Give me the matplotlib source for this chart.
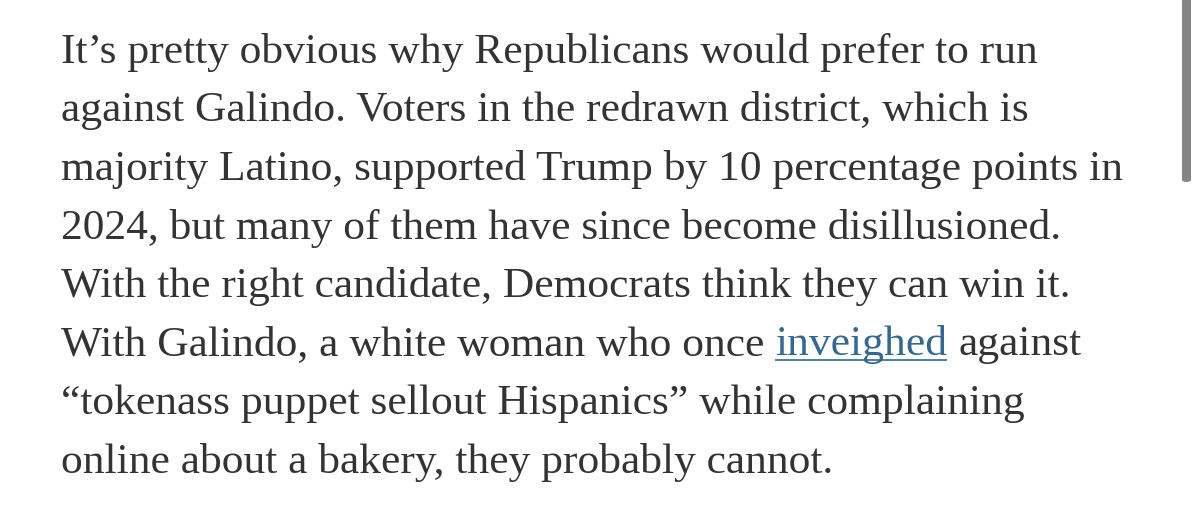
import matplotlib
matplotlib.use('Agg')
import matplotlib.pyplot as plt
from matplotlib.patches import FancyBboxPatch

### paragraph text, one entry per rendered line
lines = [
    "It\u2019s pretty obvious why Republicans would prefer to run",
    "against Galindo. Voters in the redrawn district, which is",
    "majority Latino, supported Trump by 10 percentage points in",
    "2024, but many of them have since become disillusioned.",
    "With the right candidate, Democrats think they can win it.",
    None,  # line with the link, built below
    "\u201ctokenass puppet sellout Hispanics\u201d while complaining",
    "online about a bakery, they probably cannot.",
]
link_before = "With Galindo, a white woman who once"
link_word = "inveighed"
link_after = "against"

font = 'Liberation Serif'
fsize = 31.3
text_color = '#333333'
link_color = '#326891'
x0 = 61          # left margin, px
y_first = 63     # first baseline, px
line_gap = 58.5  # baseline to baseline, px

fig = plt.figure(figsize=(12, 5.24), dpi=100)
ax = fig.add_axes([0, 0, 1, 1])
ax.set_xlim(0, 1200)
ax.set_ylim(524, 0)
ax.axis('off')

space = 0.25 * fsize  # width of a space in points
for i, s in enumerate(lines):
    y = y_first + i * line_gap
    if s is not None:
        ax.text(x0, y, s, fontsize=fsize, family=font, color=text_color, va='baseline', ha='left')
    else:
        t1 = ax.text(x0, y, link_before, fontsize=fsize, family=font, color=text_color, va='baseline', ha='left')
        t2 = ax.annotate(link_word, xy=(1, 0), xycoords=t1, xytext=(space, 0), textcoords='offset points',
                         fontsize=fsize, family=font, color=link_color, va='bottom', ha='left')
        t3 = ax.annotate(link_after, xy=(1, 0), xycoords=t2, xytext=(space, 0), textcoords='offset points',
                         fontsize=fsize, family=font, color=text_color, va='bottom', ha='left')
        link_y = y

### underline the link
fig.canvas.draw()
bb = t2.get_window_extent()
inv = ax.transData.inverted()
(lx0, _), (lx1, _) = inv.transform([(bb.x0, bb.y0), (bb.x1, bb.y0)])
ax.plot([lx0, lx1], [link_y + 4, link_y + 4], color=link_color, lw=1.2, solid_capstyle='butt')

### scrollbar at the right edge
fig.patches.append(FancyBboxPatch((1182 / 1200, 342 / 524), 9 / 1200, 190 / 524,
                                  boxstyle='round,pad=0,rounding_size=0.004',
                                  transform=fig.transFigure, facecolor='#858585', edgecolor='none'))

fig.savefig('out.png', dpi=100, facecolor='white')
